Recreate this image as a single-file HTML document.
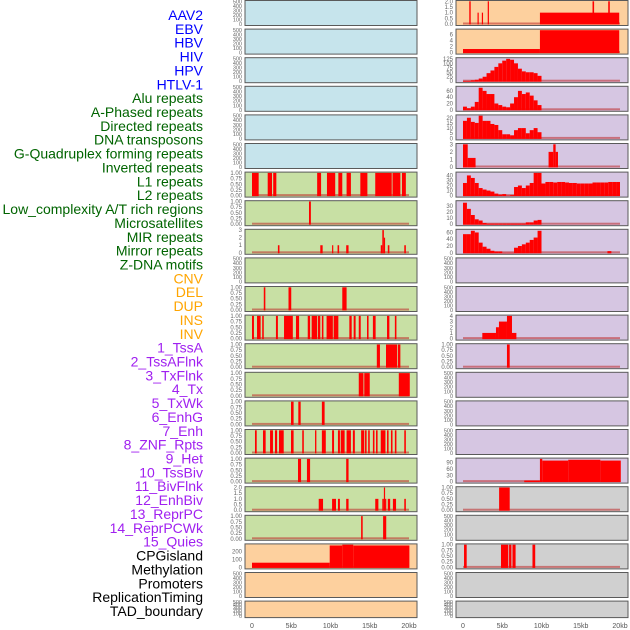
<!DOCTYPE html>
<html><head><meta charset="utf-8">
<style>
html,body{margin:0;padding:0;background:#fff;}
body{width:630px;height:630px;overflow:hidden;position:relative;font-family:"Liberation Sans",sans-serif;}
</style></head>
<body>
<svg id="chart" width="630" height="630" xmlns="http://www.w3.org/2000/svg" style="position:absolute;left:0;top:0"></svg>
<script>
// ---- category labels ----
const labels = ["AAV2","EBV","HBV","HIV","HPV","HTLV-1","Alu repeats","A-Phased repeats","Directed repeats","DNA transposons","G-Quadruplex forming repeats","Inverted repeats","L1 repeats","L2 repeats","Low_complexity A/T rich regions","Microsatellites","MIR repeats","Mirror repeats","Z-DNA motifs","CNV","DEL","DUP","INS","INV","1_TssA","2_TssAFlnk","3_TxFlnk","4_Tx","5_TxWk","6_EnhG","7_Enh","8_ZNF_Rpts","9_Het","10_TssBiv","11_BivFlnk","12_EnhBiv","13_ReprPC","14_ReprPCWk","15_Quies","CPGisland","Methylation","Promoters","ReplicationTiming","TAD_boundary"];
const labelGroups = ["virus","virus","virus","virus","virus","virus","repeat","repeat","repeat","repeat","repeat","repeat","repeat","repeat","repeat","repeat","repeat","repeat","repeat","sv","sv","sv","sv","sv","chrom","chrom","chrom","chrom","chrom","chrom","chrom","chrom","chrom","chrom","chrom","chrom","chrom","chrom","chrom","other","other","other","other","other"];
const xTickValues = [0,5,10,15,20];
const xTickLabels = ["0","5kb","10kb","15kb","20kb"];
const emptyTicks = [0,100,200,300,400,500];
const unitTicks = [0,0.25,0.5,0.75,1];
// ---- series (segments: [startKb, endKb, value]) ----
const aloneRepeatsBars = [[0,0.85,1],[2.0,2.55,1],[2.7,3.1,1],[8.3,8.8,1],[9.55,10.6,1],[11,11.5,1],[12.05,12.6,1],[13.8,14.7,1],[15.7,17.8,1],[17.9,18.9,1],[19.1,19.6,1]];
const aPhasedBars = [[7.26,7.5,1]];
const directedBars = [[3.3,3.5,1],[8.7,9.0,1],[10.2,10.35,1],[10.9,11.1,1],[12.0,12.3,1],[16.4,16.6,1],[16.6,16.8,3],[16.8,16.95,2],[17.3,17.5,1],[19.4,19.6,1]];
const gQuadBars = [[1.5,1.7,1],[4.65,5.0,1],[11.5,12.05,1]];
const invertedBars = [[0,0.25,1],[0.64,1.1,1],[1.3,1.5,1],[3.05,3.3,1],[4.08,5.2,1],[5.6,6.0,1],[7.1,7.4,1],[7.6,8.3,1],[8.4,8.7,1],[8.9,9.1,1],[9.5,10.3,1],[10.4,11.0,1],[12.4,12.7,1],[12.95,13.2,1],[13.6,13.85,1],[14.65,14.85,1],[15.4,15.75,1],[17.2,17.5,1],[18.2,18.4,1]];
const l1Bars = [[15.9,16.3,1],[17.07,18.5,1],[18.6,18.9,1]];
const l2Bars = [[13.6,14.2,1],[14.3,15.0,1],[18.7,20.1,1]];
const lowCompBars = [[4.97,5.3,1],[5.9,6.2,1],[8.9,9.25,1]];
const microsatBars = [[0.38,0.6,1],[1.4,1.74,1],[2.3,2.67,1],[2.93,3.2,1],[3.44,4.04,1],[4.97,5.3,1],[6.4,6.6,1],[8.03,8.2,1],[8.9,9.4,1],[10.2,10.45,1],[10.95,11.2,1],[11.3,11.8,1],[12.05,12.6,1],[12.85,13.1,1],[13.9,14.3,1],[14.4,14.6,1],[14.8,15.0,1],[15.4,15.6,1],[15.8,16.0,1],[16.4,17.0,1],[17.2,17.4,1],[17.7,17.9,1],[18.2,18.4,1],[19.4,19.6,1]];
const mirBars = [[5.86,6.25,1],[7.0,7.4,1],[12.0,12.3,1]];
const mirrorBars = [[8.5,9.05,1],[10.2,10.7,1],[10.95,11.2,1],[12.0,12.3,1],[15.7,16.1,1],[16.6,16.8,1],[16.8,16.95,2],[16.95,17.1,1],[17.3,17.6,1],[17.95,18.35,1],[19.4,19.6,1]];
const zdnaBars = [[13.9,14.1,1],[16.7,17.1,1]];
const cnvBars = [[0,9.9,60],[9.9,11.5,280],[11.5,12.9,290],[12.9,20.05,280]];
const insBars = [[0.8,0.98,2],[1.85,1.97,1],[2.4,2.55,1],[3.15,3.3,2],[9.8,19.9,1],[16.5,16.7,2],[18.5,18.7,2]];
const invBars = [[0,9.8,1.2],[9.8,19.9,7.5]];
const tssABins = [2,2,5,8,15,25,45,60,80,100,115,125,120,100,70,55,50,50,45,30];
const tssAFlnkBins = [10,5,10,25,70,60,50,50,20,15,10,8,20,40,60,50,55,45,30,15];
const txFlnkBins = [17,20,16,15,22,17,17,14,13,8,4,4,3,8,10,10,5,8,10,6];
const txBars = [[0,0.6,3],[0.6,1.6,1.2],[10.9,11.5,2],[11.5,11.8,3],[11.8,12.1,2]];
const txWkBins = [25,40,35,25,15,12,10,8,4,2,3,0,1,17,20,15,20,25,45,45,24,27,27,26,27,27,26,25,25,24,24,24,24,26,26,26,26,27,27,27];
const enhGBins = [35,25,15,8,6,2,1,1,1,1,1,1,1,1,1,1,3,3,6,7];
const enhBins = [55,55,65,60,30,18,12,6,4,4,0,0,0,15,20,25,30,38,45,65];
const enhExtraBars = [[18.4,18.9,5]];
const hetBars = [[2.46,4.2,1],[4.2,4.58,2],[4.58,5.6,3],[5.6,6.24,4],[6.24,6.8,1]];
const tssBivBars = [[5.6,5.95,1]];
const quiesBars = [[7.8,9.8,5],[9.8,10.1,108],[10.1,13.4,100],[13.4,17.5,104],[17.5,20.1,100]];
const cpgBars = [[4.6,5.95,1]];
const promoterBars = [[0.13,0.47,1],[4.84,5.77,1],[5.87,6.17,1],[6.3,6.7,1],[8.85,9.2,1]];

const NS="http://www.w3.org/2000/svg";
const svg=document.getElementById('chart');
function mk(tag,attrs){const e=document.createElementNS(NS,tag);for(const k in attrs)e.setAttribute(k,attrs[k]);return e;}
function bins(vals){return vals.map((v,i)=>[i*0.5,i*0.5+0.5,v]);}

const BG={blue:"#c6e4ec",green:"#c8e0a4",orange:"#fdd09e",purple:"#d6c6e2",grey:"#d0d0d0"};
// panel specs: [colorKey, ticks, ymax, bars, baseline, tickFmt]
const leftPanels=[
 ["blue",emptyTicks,500,null],["blue",emptyTicks,500,null],["blue",emptyTicks,500,null],["blue",emptyTicks,500,null],["blue",emptyTicks,500,null],["blue",emptyTicks,500,null],
 ["green",unitTicks,1,aloneRepeatsBars],["green",unitTicks,1,aPhasedBars],["green",[0,1,2,3],3,directedBars],["green",emptyTicks,500,null],
 ["green",unitTicks,1,gQuadBars],["green",unitTicks,1,invertedBars],["green",unitTicks,1,l1Bars],["green",unitTicks,1,l2Bars],["green",unitTicks,1,lowCompBars],
 ["green",unitTicks,1,microsatBars],["green",unitTicks,1,mirBars],["green",[0,0.5,1,1.5,2],2,mirrorBars],["green",unitTicks,1,zdnaBars],
 ["orange",[0,100,200],290,cnvBars],["orange",emptyTicks,500,null],["orange",emptyTicks,500,null]
];
const rightPanels=[
 ["orange",[0,0.5,1,1.5,2],2,insBars],["orange",[0,2,4,6],7.6,invBars],
 ["purple",[0,25,50,75,100,125],127,bins(tssABins)],["purple",[0,20,40,60],72,bins(tssAFlnkBins)],["purple",[0,5,10,15,20],22,bins(txFlnkBins)],
 ["purple",[0,1,2,3],3,txBars],["purple",[0,10,20,30,40],45,bins(txWkBins)],["purple",[0,10,20,30],37,bins(enhGBins)],["purple",[0,20,40,60],67,bins(enhBins).concat(enhExtraBars)],
 ["purple",emptyTicks,500,null],["purple",emptyTicks,500,null],["purple",[0,1,2,3,4],4,hetBars],["purple",unitTicks,1,tssBivBars],
 ["purple",emptyTicks,500,null],["purple",emptyTicks,500,null],["purple",emptyTicks,500,null],["purple",[0,30,60,90],108,quiesBars],
 ["grey",unitTicks,1,cpgBars],["grey",emptyTicks,500,null],["grey",unitTicks,1,promoterBars],["grey",emptyTicks,500,null],["grey",emptyTicks,500,null]
];
function fmt(t,ticks){ if(ticks===unitTicks) return t.toFixed(2); if(ticks.some(v=>v%1!==0)) return t.toFixed(1); return String(t);}
function drawPanel(spec,i,px,x0,col){
  const top=i*28.6+0.5, h=(i<21?25:16.5);
  const name=labels[col*22+i].toLowerCase().replace(/[^a-z0-9]+/g,'-');
  const g=mk('g',{});
  
  
  svg.appendChild(g);
  const r=mk('rect',{x:px,y:top,width:172,height:h,fill:BG[spec[0]],stroke:"#5a5a5a","stroke-width":1});
  
  
  g.appendChild(r);
  const yTop=top+0.8, yBot=top+h-1.5;
  const ys=v=>yBot-(v/spec[2])*(yBot-yTop);
  const xs=kb=>x0+kb*7.85;
  spec[1].forEach(t=>{
    const tx=mk('text',{x:px-3,y:ys(t)+2,"font-size":(spec[1]===emptyTicks?5.5:6),fill:"#666","text-anchor":"end"});
    tx.textContent=fmt(t,spec[1]);
    
    
    g.appendChild(tx);
  });
  if(spec[3]){
    const bl=mk('rect',{x:xs(0),y:yBot-1.5,width:xs(20)-xs(0),height:2,fill:"rgba(190,40,40,0.55)"});
    
    
    g.appendChild(bl);
    spec[3].forEach(b=>{
      const bx=xs(b[0]), bw=Math.max(1.2,xs(b[1])-bx), by=ys(b[2]);
      const br=mk('rect',{x:bx,y:by,width:bw,height:Math.max(0,yBot-by+0.5),fill:"#ff0000"});
      
      
      g.appendChild(br);
    });
  }
}
leftPanels.forEach((s,i)=>drawPanel(s,i,245,252,0));
rightPanels.forEach((s,i)=>drawPanel(s,i,456,463,1));
// x axes
[[252],[463]].forEach((a,ci)=>{
  xTickValues.forEach((v,j)=>{
    const t=mk('text',{x:a[0]+v*7.85,y:628,"font-size":7,fill:"#555","text-anchor":"middle"});
    t.textContent=xTickLabels[j];
    
    
    svg.appendChild(t);
  });
});
// labels
const LC={virus:"#0000ff",repeat:"#006400",sv:"#ffa500",chrom:"#a020f0",other:"#000000"};
labels.forEach((l,i)=>{
  const t=mk('text',{x:203,y:20+i*13.86,"font-size":14,fill:LC[labelGroups[i]],"text-anchor":"end"});
  t.textContent=l;
  
  
  svg.appendChild(t);
});
</script>
</body></html>
